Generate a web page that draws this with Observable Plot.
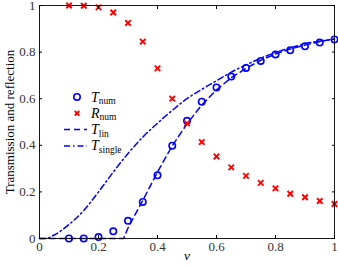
<!DOCTYPE html>
<html>
<head>
<meta charset="utf-8">
<script src="https://cdn.jsdelivr.net/npm/d3@7"></script>
<script src="https://cdn.jsdelivr.net/npm/@observablehq/plot@0.6"></script>
<style>
  html, body { margin: 0; padding: 0; background: #fff; }
  #chart svg { display: block; }
  #chart svg text { font-family: "Liberation Serif", "DejaVu Serif", serif; }
</style>
</head>
<body>
<div id="chart"></div>
<script>
// Numerical results (markers)
const vNum = [0.1, 0.15, 0.2, 0.25, 0.3, 0.35, 0.4, 0.45, 0.5, 0.55, 0.6, 0.65, 0.7, 0.75, 0.8, 0.85, 0.9, 0.95, 1.0];
const Tnum = [0.0, 0.0, 0.006, 0.031, 0.076, 0.157, 0.271, 0.398, 0.505, 0.587, 0.648, 0.695, 0.732, 0.762, 0.79, 0.808, 0.825, 0.841, 0.854];
const Rnum = [1.0, 0.999, 0.992, 0.97, 0.925, 0.845, 0.73, 0.6, 0.494, 0.414, 0.352, 0.305, 0.269, 0.239, 0.215, 0.192, 0.177, 0.161, 0.148];

// Linear theory (dashed)
const vLin = [0, 0.1, 0.2, 0.285, 0.3, 0.325, 0.35, 0.4, 0.45, 0.5, 0.55, 0.6, 0.65, 0.7, 0.75, 0.8, 0.85, 0.9, 0.95, 1.0];
const Tlin = [0, 0, 0, 0, 0.045, 0.105, 0.163, 0.285, 0.398, 0.492, 0.573, 0.638, 0.69, 0.73, 0.765, 0.792, 0.813, 0.83, 0.845, 0.857];

// Single-barrier theory (dash-dot)
const vSingle = [0, 0.02, 0.05, 0.1, 0.15, 0.2, 0.25, 0.3, 0.35, 0.4, 0.45, 0.5, 0.55, 0.6, 0.65, 0.7, 0.75, 0.8, 0.85, 0.9, 0.95, 1.0];
const Tsingle = [0, 0, 0.015, 0.06, 0.12, 0.2, 0.285, 0.365, 0.435, 0.495, 0.55, 0.6, 0.64, 0.677, 0.714, 0.745, 0.774, 0.798, 0.818, 0.836, 0.847, 0.855];

const xTicks = [0, 0.2, 0.4, 0.6, 0.8, 1];
const yTicks = [0, 0.2, 0.4, 0.6, 0.8, 1];
const yLabel = "Transmission and reflection";
const xLabel = "v";

const numData = vNum.map((v, i) => ({v, T: Tnum[i], R: Rnum[i]}));
const linData = vLin.map((v, i) => ({v, T: Tlin[i]}));
const singleData = vSingle.map((v, i) => ({v, T: Tsingle[i]}));

const fmt = d => (d === 0 || d === 1) ? String(d) : d.toFixed(1);
const BLUE = "#0000ff";
const RED = "#ff0000";
const FONT = "Liberation Serif, DejaVu Serif, serif";

const chart = Plot.plot({
  width: 338,
  height: 266,
  marginLeft: 39,
  marginRight: 4,
  marginTop: 5,
  marginBottom: 28,
  style: { fontSize: "13px", background: "#fff", color: "#000" },
  x: { domain: [0, 1] },
  y: { domain: [0, 1] },
  marks: [
    Plot.line(singleData, {x: "v", y: "T", stroke: BLUE, strokeWidth: 1.5, strokeDasharray: "6,3,1.5,3", curve: "monotone-x"}),
    Plot.line(linData, {x: "v", y: "T", stroke: BLUE, strokeWidth: 1.5, strokeDasharray: "6,4"}),
    Plot.dot(numData, {x: "v", y: "T", r: 3.2, stroke: BLUE, strokeWidth: 1.6, fill: "none"}),
    Plot.dot(numData, {x: "v", y: "R", r: 2.6, symbol: "times", stroke: RED, strokeWidth: 1.9}),
    Plot.frame({stroke: "#000", strokeWidth: 0.9}),
    Plot.axisX(xTicks, {anchor: "bottom", tickSize: -3, text: null, label: null}),
    Plot.axisX(xTicks, {anchor: "top", tickSize: -3, text: null, label: null}),
    Plot.axisY(yTicks, {anchor: "left", tickSize: -3, text: null, label: null}),
    Plot.axisY(yTicks, {anchor: "right", tickSize: -3, text: null, label: null}),
    Plot.axisX(xTicks, {anchor: "bottom", tickSize: 0, tickPadding: 3, tickFormat: fmt, label: null, fill: "#333", fontSize: 13}),
    Plot.axisY(yTicks, {anchor: "left", tickSize: 0, tickPadding: 4, tickFormat: fmt, label: null, fill: "#333", fontSize: 13}),
    Plot.text([yLabel], {frameAnchor: "left", textAnchor: "middle", rotate: -90, dx: -30, fontSize: 13}),
    Plot.text([xLabel], {frameAnchor: "bottom", textAnchor: "middle", dy: 21, fontStyle: "italic", fontSize: 13.5})
  ]
});

document.getElementById("chart").appendChild(chart);

// Legend (inside the axes, upper left)
const svg = d3.select(chart);
svg.attr("font-family", FONT);
const lg = svg.append("g").attr("font-family", FONT).attr("fill", "#000").attr("text-anchor", "start");
const entries = [
  {name: "T", sub: "num", kind: "circle"},
  {name: "R", sub: "num", kind: "times"},
  {name: "T", sub: "lin", kind: "dash"},
  {name: "T", sub: "single", kind: "dashdot"}
];
const lx = 64, lx2 = 87, ly0 = 97, dyRow = 16.3, tx = 91;
entries.forEach((e, i) => {
  const y = ly0 + i * dyRow;
  if (e.kind === "circle") {
    lg.append("circle").attr("cx", (lx + lx2) / 2 + 1.5).attr("cy", y).attr("r", 3.2)
      .attr("fill", "none").attr("stroke", BLUE).attr("stroke-width", 1.6);
  } else if (e.kind === "times") {
    const cx = (lx + lx2) / 2 + 1.5, s = 2.3;
    lg.append("path").attr("d", `M${cx - s},${y - s}L${cx + s},${y + s}M${cx - s},${y + s}L${cx + s},${y - s}`)
      .attr("stroke", RED).attr("stroke-width", 1.9);
  } else {
    lg.append("line").attr("x1", lx).attr("x2", lx2).attr("y1", y).attr("y2", y)
      .attr("stroke", BLUE).attr("stroke-width", 1.5)
      .attr("stroke-dasharray", e.kind === "dash" ? "6,4" : "6,3,1.5,3");
  }
  const t = lg.append("text").attr("x", tx).attr("y", y + 4.5).attr("font-size", 14);
  t.append("tspan").attr("font-style", "italic").text(e.name);
  t.append("tspan").attr("font-size", 9.5).attr("dy", 2.5).text(e.sub);
});
</script>
</body>
</html>
